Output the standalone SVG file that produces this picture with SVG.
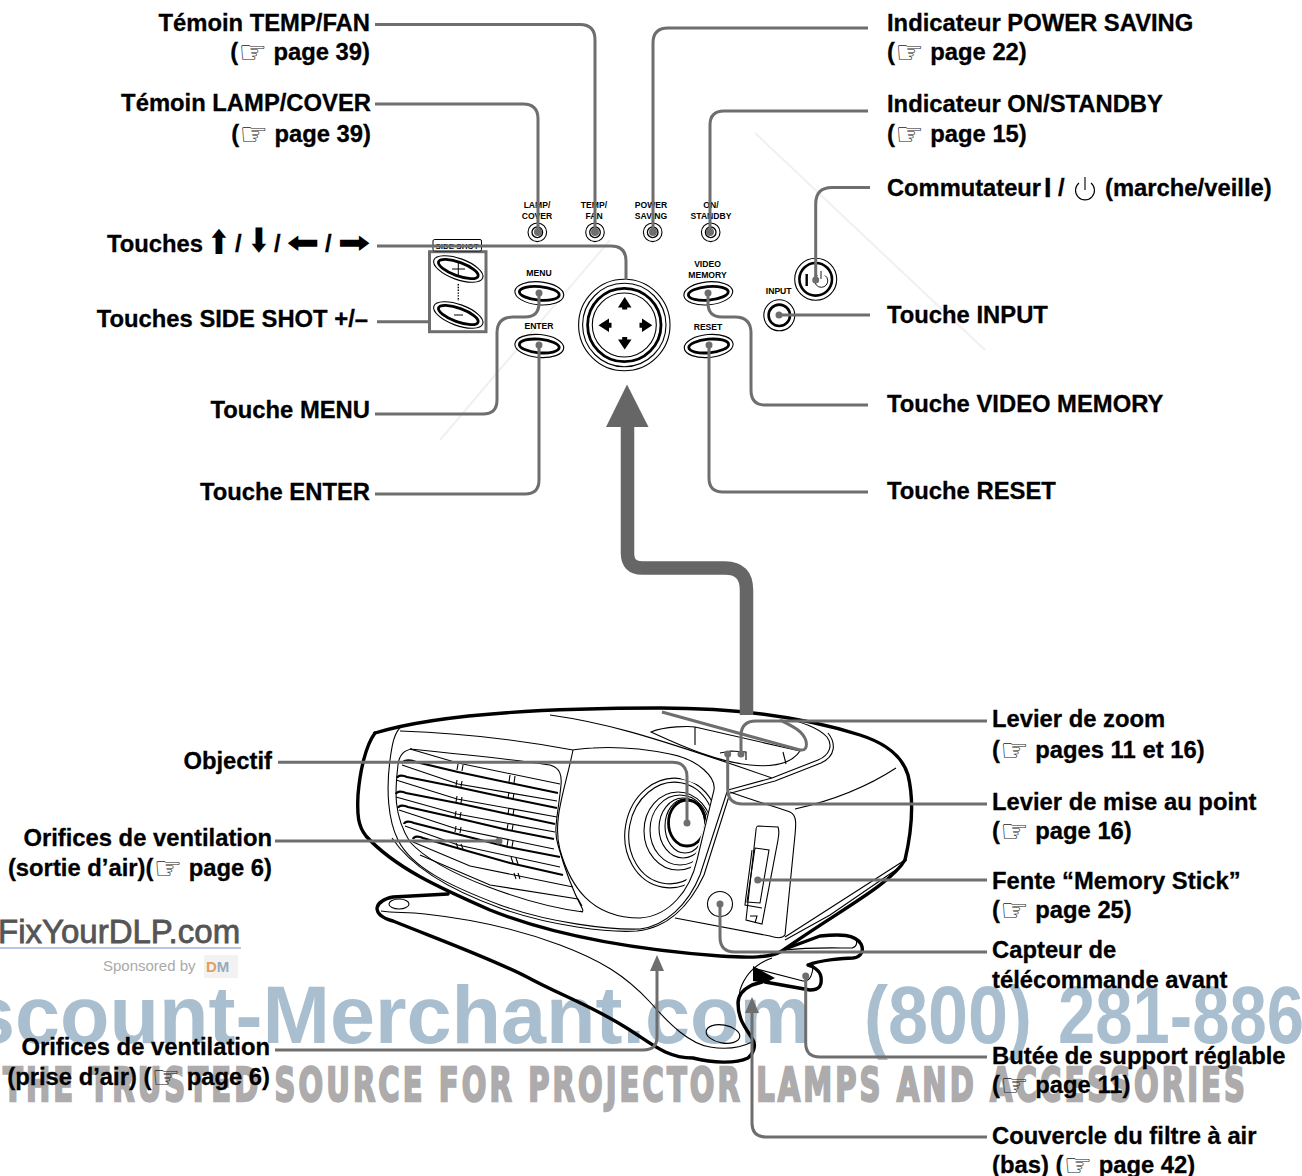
<svg xmlns="http://www.w3.org/2000/svg" width="1302" height="1176" viewBox="0 0 1302 1176">
<style>
text{font-family:"Liberation Sans",Arial,sans-serif}
.l{font-size:23.8px;font-weight:700;fill:#000;stroke:#000;stroke-width:.3}
.e{text-anchor:end}
.h{font-family:"DejaVu Sans",sans-serif;font-weight:400;fill:#222;stroke:none;font-size:32px;baseline-shift:-3px}
.a{font-family:"DejaVu Sans",sans-serif;font-weight:700;fill:#000;text-anchor:middle}
.s{font-size:8.6px;font-weight:700;fill:#000;text-anchor:middle}
.c{fill:none;stroke:#6e6e6e;stroke-width:3}
.d{fill:#6e6e6e}
.t{fill:none;stroke:#000;stroke-width:1.1}
.m{fill:none;stroke:#000;stroke-width:2}
.k{fill:none;stroke:#000;stroke-width:3.4;stroke-linecap:round;stroke-linejoin:round}
.r{fill:#fff;stroke:#000;stroke-width:1.1}
.g{fill:none;stroke:#000;stroke-width:2.8}
.wm{font-size:81px;font-weight:700;fill:#a9bfcf}
.wt{font-family:"DejaVu Sans",sans-serif;font-size:47px;font-weight:700;fill:#adabac;stroke:#adabac;stroke-width:2.4;letter-spacing:5px}
</style>
<defs>
<clipPath id="lensclip"><polygon points="600,750 714,790 697,850 683,890 600,900"/></clipPath>
</defs>

<g id="watermark">
<path d="M755 133L985 350M610 240L440 440" fill="none" stroke="#f0f0f0" stroke-width="2"/>
<text class="wm" x="-30" y="1043">scount-Merchant.com</text>
<text class="wm" x="864" y="1043" textLength="168" lengthAdjust="spacingAndGlyphs">(800)</text>
<text class="wm" x="1058" y="1043" textLength="246" lengthAdjust="spacingAndGlyphs">281-886</text>
<text class="wt" x="3" y="1101" textLength="1245" lengthAdjust="spacingAndGlyphs">THE TRUSTED SOURCE FOR PROJECTOR LAMPS AND ACCESSORIES</text>
<text x="-2" y="943" font-size="33" font-weight="400" fill="#555" stroke="#555" stroke-width=".8">FixYourDLP.com</text>
<rect x="0" y="947" width="241" height="2" fill="#b9c4e8"/>
<text x="103" y="971" font-size="15" fill="#aaa">Sponsored by</text>
<rect x="204" y="955" width="34" height="23" fill="#f2f2f2"/>
<text x="206" y="972" font-size="15" font-weight="700" fill="#9ab"><tspan fill="#e0a060">D</tspan>M</text>
</g>

<g id="projector">
<path class="k" d="M375 733C440 713 550 708 660 708C730 708 800 716 860 735C885 743 902 755 908 775C914 800 912 830 905 860"/>
<path class="k" d="M375 733C366 745 360 770 358 795C357 815 358 826 366 836C395 868 440 888 490 910C560 938 640 950 720 956C750 958 770 958 782 951"/>
<path class="k" d="M905 860C890 885 840 910 782 951"/>
<path class="t" d="M402 726C394 732 392 745 390 760C386 790 388 820 398 840C412 868 450 886 500 905C550 923 610 930 640 929C665 926 688 905 700 875L727 792"/>
<path class="t" d="M392 838C412 868 450 890 500 908C550 926 610 933 637 931C668 928 690 905 704 875L730 793"/>
<path class="t" d="M400 731C460 733 520 740 573 750C565 790 552 820 560 850C570 885 590 918 640 918C670 916 690 890 697 860L714 790C716 778 700 760 670 754C640 748 610 747 593 748C582 748 575 750 573 750"/>
<path class="t" d="M550 715C600 722 640 732 772 778M728 790L772 778L818 760C830 755 833 745 827 737C818 727 800 722 785 718M731 793L775 781L821 763C836 756 836 743 828 733"/>
<path class="t" d="M730 792C760 803 780 808 790 812C797 815 796 825 795 835L785 935C782 939 776 938 770 936L675 918"/>
<path class="t" d="M795 809C835 800 870 785 896 768M785 937L905 860M785 940L830 915L903 865"/>
<path class="t" d="M651 732C665 726 690 726 695 727L800 751C791 765 770 767 750 765C720 762 690 750 651 732ZM695 727V745M783 752L786 764"/>
<path class="t" d="M720 753L731 751L746 752L746 760"/>
<path class="r" d="M758 826L778 827C780 832 778 838 778 840L762 924L746 920L756 830C756 828 757 826 758 826Z"/>
<path class="t" d="M755 848L769 850L760 903L747 902ZM752 850C751 860 746 895 745 905L762 908M750 916H757L755 923"/>
<circle class="t" cx="720" cy="904" r="12.5"/>
<g clip-path="url(#lensclip)">
<ellipse class="t" cx="672" cy="833" rx="47" ry="55" transform="rotate(10 672 833)"/>
<ellipse class="t" cx="672" cy="833" rx="43" ry="51" transform="rotate(10 672 833)"/>
<ellipse class="t" cx="678" cy="831" rx="34" ry="39"/>
<ellipse class="t" cx="680" cy="830" rx="30" ry="35"/>
<ellipse class="t" cx="683" cy="828" rx="24" ry="30"/>
<ellipse class="t" cx="685" cy="826" rx="20" ry="27"/>
<ellipse cx="687" cy="823" rx="18.5" ry="23" fill="none" stroke="#000" stroke-width="2.8"/>
</g>
<path class="t" d="M412 749C405 750 399 755 398 765C395 790 393 815 410 842C440 875 530 905 583 912M410 749C470 755 530 762 550 765C560 768 562 775 561 785C558 815 553 830 558 845C565 870 575 895 582 908C584 912 582 912 580 911"/>
<g fill="none" stroke="#000">
<path stroke-width="1.1" d="M410 749L458 763L560 784"/>
<path stroke-width="2.1" d="M402 763C405 759 412 760 416 762L458 772L510 783L558 793"/>
<path stroke-width="1.1" d="M402 765L458 784L557 801"/>
<path stroke-width="2.1" d="M397 778C398 775 403 775 407 777L457 787L508 798L557 808"/>
<path stroke-width="1.1" d="M396 780L457 799L557 817"/>
<path stroke-width="2.1" d="M396 794C397 791 402 791 406 793L457 803L508 814L555 824"/>
<path stroke-width="1.1" d="M396 797L457 814L555 832"/>
<path stroke-width="2.1" d="M398 808C399 805 404 805 408 807L457 818L508 830L554 839"/>
<path stroke-width="1.1" d="M399 810L457 829L554 849"/>
<path stroke-width="2.1" d="M404 824C405 821 410 821 414 823L457 834L508 847L560 857"/>
<path stroke-width="1.1" d="M405 826L458 845L560 867"/>
<path stroke-width="2.1" d="M413 839C414 836 419 836 423 838L457 848L510 863L563 875"/>
<path stroke-width="1.1" d="M413 842L470 866L573 887M420 855L490 885L578 899L582 906"/>
<path stroke-width="1.1" d="M458 764L457 770M463 765L462 771M457 780L456 786M462 781L461 787M457 796L456 802M462 797L461 803M456 811L455 817M461 812L460 818M456 826L455 832M461 827L460 833M456 843L458 848M461 844L463 849M510 775L509 782M515 776L514 783M509 792L508 798M514 793L513 799M509 808L508 814M514 809L513 815M508 824L507 830M513 825L512 831M508 840L507 846M513 841L512 847M511 857L513 863M516 858L518 864M514 873L516 879M518 873L520 879"/>
</g>
<path class="k" d="M448 894L393 897C383 899 378 903 377 908C377 914 382 918 393 921C440 940 490 958 527 977C560 995 590 1005 625 1027C650 1042 665 1058 693 1058C713 1063 735 1064 748 1058C754 1053 756 1045 753 1040C746 1028 738 1020 738 1003C738 994 744 989 752 985L762 982"/>
<path class="t" d="M381 911C395 913 405 912 425 914C480 920 520 930 560 945C600 960 625 975 650 1002C670 1025 690 1044 710 1047C728 1050 740 1048 752 1042"/>
<ellipse class="t" cx="399" cy="904" rx="10" ry="5"/>
<ellipse class="t" cx="723" cy="1034" rx="17" ry="9" transform="rotate(10 723 1034)"/>
<path class="t" d="M772 958C755 964 745 975 740 990C737 1005 740 1025 750 1036"/>
<path class="t" d="M753 968L803 981C811 982 813 972 813 965"/>
<path d="M753 966V981L765 983L775 978Z" fill="#000"/>
<path class="k" d="M765 982L810 990C820 990 822 985 821 977C820 970 812 966 808 965M808 965C820 960 845 958 853 958C862 957 864 950 861 944C855 934 840 934 820 936L785 949"/>
<path class="t" d="M785 950C810 947 835 948 852 948C857 947 858 941 855 938"/>
<path d="M662 712L800 750Q808 751 806 741C803 730 790 725 780 720" fill="none" stroke="#6e6e6e" stroke-width="3"/>
</g>

<g id="panel-leds">
<g fill="#fff" stroke="#000" stroke-width="1.1">
<circle cx="537.3" cy="232.3" r="9.3"/><circle cx="595" cy="232.3" r="9.3"/><circle cx="652.7" cy="232.3" r="9.3"/><circle cx="710.7" cy="232.3" r="9.3"/>
</g>
<g fill="none" stroke="#000" stroke-width="1.3">
<circle cx="537.3" cy="232.3" r="5.3"/><circle cx="595" cy="232.3" r="5.3"/><circle cx="652.7" cy="232.3" r="5.3"/><circle cx="710.7" cy="232.3" r="5.3"/>
</g>
<text class="s"><tspan x="537" y="208.3">LAMP/</tspan><tspan x="537" y="219.3">COVER</tspan></text>
<text class="s"><tspan x="594" y="208.3">TEMP/</tspan><tspan x="594" y="219.3">FAN</tspan></text>
<text class="s"><tspan x="651" y="208.3">POWER</tspan><tspan x="651" y="219.3">SAVING</tspan></text>
<text class="s"><tspan x="711" y="208.3">ON/</tspan><tspan x="711" y="219.3">STANDBY</tspan></text>
</g>

<g id="side-shot">
<rect x="429.5" y="251.7" width="56.5" height="80" fill="#fff" stroke="#6e6e6e" stroke-width="3"/>
<rect x="433" y="239.5" width="48.5" height="11.5" rx="1.5" fill="#fff" stroke="#000" stroke-width="1"/>
<text class="s" x="457" y="249" style="font-size:8px">SIDE SHOT</text>
<g transform="rotate(20 458.3 269)"><ellipse class="t" cx="458.3" cy="269" rx="26" ry="10.5"/><ellipse class="g" cx="458.3" cy="269" rx="21" ry="6.8"/></g>
<path d="M452 269H465M458.3 263V276" stroke="#000" stroke-width="1" fill="none"/>
<g transform="rotate(20 458.3 315)"><ellipse class="t" cx="458.3" cy="315" rx="26" ry="10.5"/><ellipse class="g" cx="458.3" cy="315" rx="21" ry="6.8"/></g>
<path d="M454 315H463" stroke="#000" stroke-width="1" fill="none"/>
<path d="M458.3 284V301" stroke="#000" stroke-width="1.4" stroke-dasharray="1.4 1.4" fill="none"/>
</g>

<g id="buttons">
<g transform="rotate(5 539.3 293.3)"><ellipse class="t" cx="539.3" cy="293.3" rx="24.5" ry="11.5"/><ellipse class="g" cx="539.3" cy="293.3" rx="20" ry="6.8"/></g>
<g transform="rotate(5 539.3 346)"><ellipse class="t" cx="539.3" cy="346" rx="24.5" ry="11.5"/><ellipse class="g" cx="539.3" cy="346" rx="20" ry="6.8"/></g>
<g transform="rotate(-5 708.3 293.3)"><ellipse class="t" cx="708.3" cy="293.3" rx="24.5" ry="11.5"/><ellipse class="g" cx="708.3" cy="293.3" rx="20" ry="6.8"/></g>
<g transform="rotate(-5 708.7 346)"><ellipse class="t" cx="708.7" cy="346" rx="24.5" ry="11.5"/><ellipse class="g" cx="708.7" cy="346" rx="20" ry="6.8"/></g>
<text class="s" x="539" y="276">MENU</text>
<text class="s" x="539" y="329">ENTER</text>
<text class="s"><tspan x="707.5" y="266.7">VIDEO</tspan><tspan x="707.5" y="278">MEMORY</tspan></text>
<text class="s" x="708" y="330">RESET</text>
<text class="s" x="778.7" y="294">INPUT</text>
<circle class="t" cx="779.3" cy="315.3" r="15.5"/>
<circle cx="779.3" cy="315.3" r="10.7" fill="none" stroke="#000" stroke-width="2.6"/>
<circle class="t" cx="815.7" cy="279.3" r="21"/>
<circle cx="815.7" cy="279.3" r="16.3" fill="none" stroke="#000" stroke-width="2.6"/>
<rect x="805.5" y="274" width="2.4" height="12" fill="#000"/>
<path d="M817.5 275.5A6.5 6.5 0 1 0 825 275.5M821 271V279" fill="none" stroke="#000" stroke-width="0.9"/>
</g>

<g id="dpad">
<circle class="t" cx="624.3" cy="325" r="45.7"/>
<circle class="t" cx="624.3" cy="325" r="41.7"/>
<circle cx="624.3" cy="325" r="36.7" fill="none" stroke="#000" stroke-width="2.8"/>
<circle class="t" cx="624.3" cy="325" r="32"/>
<g fill="#000">
<path d="M624.7 297L631.5 307.5H627.2V309.5H622.2V307.5H618Z"/>
<path d="M624.7 349.5L631.5 339.5H627.2V337H622.2V339.5H618Z"/>
<path d="M598.5 325.3L609 318.5V322.8H611.5V327.8H609V332Z"/>
<path d="M652.3 325.3L642 318.5V322.8H639.5V327.8H642V332Z"/>
</g>
</g>

<g id="connectors">
<path class="c" d="M375 24.5H580Q595 24.5 595 40V232"/>
<path class="c" d="M375 104H523Q538 104 538 119V232"/>
<path class="c" d="M377 246H611Q626 246 626 261V280"/>
<path class="c" d="M377 321.7H429"/>
<path class="c" d="M375 414H483Q497 414 497 400V333Q497 317 513 317H525Q539 317 539 303V293"/>
<path class="c" d="M375 494H525Q539 494 539 480V345"/>
<path class="c" d="M868 405H765Q751 405 751 390V333Q751 317 735 317H722Q708 317 708 303V293"/>
<path class="c" d="M868 492H723Q709 492 709 478V345"/>
<path class="c" d="M870 315H779"/>
<path class="c" d="M870 187.5H832Q815.7 187.5 815.7 204V280"/>
<path class="c" d="M868 111H724Q710 111 710 125V232"/>
<path class="c" d="M868 28H668Q653 28 653 43V232"/>
<path class="c" d="M278 762.3H672Q687 762.3 687 777V823"/>
<path class="c" d="M275 841H499"/>
<path class="c" d="M275 1050H643Q657 1050 657 1037V970"/>
<path class="c" d="M987 721H756Q741 721 741 736V754"/>
<path class="c" d="M987 804H743Q727.7 804 727.7 789V754"/>
<path class="c" d="M987 880H757.7"/>
<path class="c" d="M987 952H735Q720 952 720 937V904"/>
<path class="c" d="M987 1057H820Q805.7 1057 805.7 1043V976"/>
<path class="c" d="M987 1137H766Q752 1137 752 1123V1010"/>
<circle class="d" cx="538" cy="232" r="4"/><circle class="d" cx="595" cy="232" r="4"/><circle class="d" cx="653" cy="232" r="4"/><circle class="d" cx="710" cy="232" r="4"/>
<circle class="d" cx="539" cy="293" r="3.5"/><circle class="d" cx="539" cy="345" r="3.5"/><circle class="d" cx="708" cy="293" r="3.5"/><circle class="d" cx="709" cy="345" r="3.5"/>
<circle class="d" cx="779" cy="315" r="3.5"/><circle class="d" cx="815.7" cy="280" r="3.5"/>
<circle class="d" cx="687" cy="823" r="3.5"/><circle class="d" cx="499" cy="841" r="3.5"/>
<circle class="d" cx="741" cy="754" r="3.5"/><circle class="d" cx="727.7" cy="754" r="3.5"/><circle class="d" cx="757.7" cy="880" r="3.5"/>
<circle class="d" cx="720" cy="904" r="3.5"/><circle class="d" cx="805.7" cy="976" r="3.5"/>
<polygon class="d" points="657,955 650,971 664,971"/>
<polygon class="d" points="752,997 745,1013 759,1013"/>
<path d="M746.5 715V590Q746.5 568 725 568H642Q627.5 568 627.5 553V425" fill="none" stroke="#666" stroke-width="13.5"/>
<polygon fill="#666" points="627,384.5 606,427 648.5,427"/>
</g>

<g id="labels">
<text class="l e"><tspan x="370" y="31">Témoin TEMP/FAN</tspan><tspan x="370" y="60">(<tspan class="h">☞</tspan> page 39)</tspan></text>
<text class="l e"><tspan x="371" y="111">Témoin LAMP/COVER</tspan><tspan x="371" y="142">(<tspan class="h">☞</tspan> page 39)</tspan></text>
<text class="l" x="107" y="252">Touches</text>
<text class="a" font-size="32" transform="translate(219 254) scale(.85 1.05)" x="0" y="0">⬆</text>
<text class="l" x="235" y="252">/</text>
<text class="a" font-size="32" transform="translate(259 252) scale(.85 1.05)" x="0" y="0">⬇</text>
<text class="l" x="274" y="252">/</text>
<text class="a" font-size="26" transform="translate(303 252) scale(1.5 1.1)" x="0" y="0">⬅</text>
<text class="l" x="325" y="252">/</text>
<text class="a" font-size="26" transform="translate(354 252) scale(1.5 1.1)" x="0" y="0">➡</text>
<text class="l e" x="368" y="327">Touches SIDE SHOT +/–</text>
<text class="l e" x="370" y="418">Touche MENU</text>
<text class="l e" x="370" y="500">Touche ENTER</text>
<text class="l e" x="272" y="769">Objectif</text>
<text class="l e"><tspan x="272" y="846">Orifices de ventilation</tspan><tspan x="272" y="876">(sortie d’air)(<tspan class="h">☞</tspan> page 6)</tspan></text>
<text class="l e"><tspan x="270" y="1055">Orifices de ventilation</tspan><tspan x="270" y="1085">(prise d’air) (<tspan class="h">☞</tspan> page 6)</tspan></text>
<text class="l"><tspan x="887" y="31">Indicateur POWER SAVING</tspan><tspan x="887" y="60">(<tspan class="h">☞</tspan> page 22)</tspan></text>
<text class="l"><tspan x="887" y="112">Indicateur ON/STANDBY</tspan><tspan x="887" y="142">(<tspan class="h">☞</tspan> page 15)</tspan></text>
<text class="l" x="887" y="196" textLength="154" lengthAdjust="spacingAndGlyphs">Commutateur</text>
<text class="l" x="1044" y="197" style="font-size:27px">I</text>
<text class="l" x="1058" y="196">/</text>
<path d="M1079 183A9.5 9.5 0 1 0 1091 183M1085 177V190" fill="none" stroke="#000" stroke-width="1.1"/>
<text class="l" x="1105" y="196">(marche/veille)</text>
<text class="l" x="887" y="323">Touche INPUT</text>
<text class="l" x="887" y="412">Touche VIDEO MEMORY</text>
<text class="l" x="887" y="499">Touche RESET</text>
<text class="l"><tspan x="992" y="727">Levier de zoom</tspan><tspan x="992" y="758">(<tspan class="h">☞</tspan> pages 11 et 16)</tspan></text>
<text class="l"><tspan x="992" y="810">Levier de mise au point</tspan><tspan x="992" y="839">(<tspan class="h">☞</tspan> page 16)</tspan></text>
<text class="l"><tspan x="992" y="889">Fente “Memory Stick”</tspan><tspan x="992" y="918">(<tspan class="h">☞</tspan> page 25)</tspan></text>
<text class="l"><tspan x="992" y="958">Capteur de</tspan><tspan x="992" y="988">télécommande avant</tspan></text>
<text class="l"><tspan x="992" y="1064">Butée de support réglable</tspan><tspan x="992" y="1093">(<tspan class="h">☞</tspan> page 11)</tspan></text>
<text class="l"><tspan x="992" y="1144">Couvercle du filtre à air</tspan><tspan x="992" y="1173">(bas) (<tspan class="h">☞</tspan> page 42)</tspan></text>
</g>
</svg>
